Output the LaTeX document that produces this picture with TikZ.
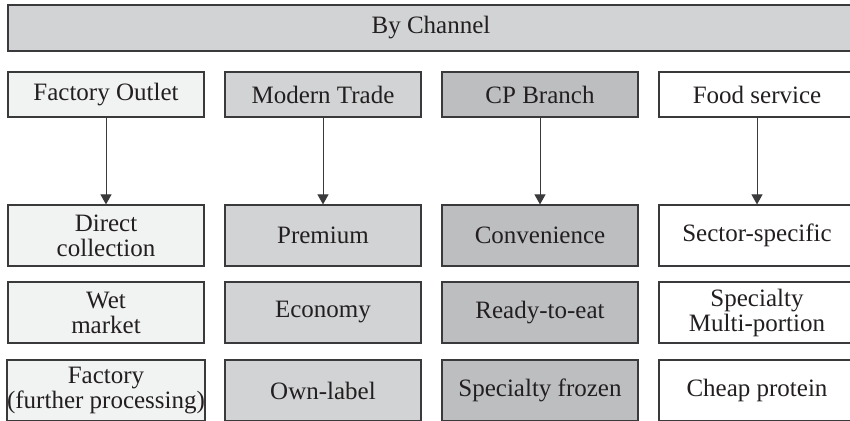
\documentclass[tikz,border=0pt]{standalone}
\usepackage{fontspec}
\setmainfont{Liberation Serif}
\usetikzlibrary{arrows.meta}
\definecolor{bordercol}{HTML}{3A3A3C}
\definecolor{txtcol}{HTML}{231F20}
\definecolor{fillA}{HTML}{F1F2F2}
\definecolor{fillB}{HTML}{D1D3D4}
\definecolor{fillC}{HTML}{BCBEC0}
\definecolor{fillD}{HTML}{FFFFFF}
\tikzset{
  cell/.style={draw=bordercol, line width=1.2pt, text=txtcol, align=center,
    inner sep=0pt, minimum width=196pt,
    font=\fontsize{25}{25}\selectfont},
  headcell/.style={cell, minimum height=45pt},
  bodycell/.style={cell, minimum height=61pt},
  flow/.style={draw=bordercol, line width=1pt, -{Triangle[length=10pt,width=11pt]}}
}
\begin{document}
\begin{tikzpicture}[x=1pt,y=-1pt]
\clip (0,0) rectangle (850,420);
\fill[white] (0,0) rectangle (850,420);
\node[cell, fill=fillB, minimum width=846pt, minimum height=46pt] (top) at (431,28) {By Channel};
% headers
\node[headcell, fill=fillA] (h1) at (106,94.5) {Factory Outlet};
\node[headcell, fill=fillB] (h2) at (323,94.5) {Modern Trade};
\node[headcell, fill=fillC] (h3) at (540,94.5) {CP Branch};
\node[headcell, fill=fillD] (h4) at (757,94.5) {Food service};
% row 1
\node[bodycell, fill=fillA] (a1) at (106,235.5) {Direct\\collection};
\node[bodycell, fill=fillB] (b1) at (323,235.5) {Premium};
\node[bodycell, fill=fillC] (c1) at (540,235.5) {Convenience};
\node[bodycell, fill=fillD] (d1) at (757,235.5) {Sector-specific};
% row 2
\node[bodycell, fill=fillA] (a2) at (106,312.5) {Wet\\market};
\node[bodycell, fill=fillB] (b2) at (323,312.5) {Economy};
\node[bodycell, fill=fillC] (c2) at (540,312.5) {Ready-to-eat};
\node[bodycell, fill=fillD] (d2) at (757,312.5) {Specialty\\Multi-portion};
% row 3
\node[bodycell, fill=fillA] (a3) at (106,390.5) {Factory\\(further processing)};
\node[bodycell, fill=fillB] (b3) at (323,390.5) {Own-label};
\node[bodycell, fill=fillC] (c3) at (540,390.5) {Specialty frozen};
\node[bodycell, fill=fillD] (d3) at (757,390.5) {Cheap protein};
% arrows
\draw[flow] (h1) -- (a1);
\draw[flow] (h2) -- (b1);
\draw[flow] (h3) -- (c1);
\draw[flow] (h4) -- (d1);
\end{tikzpicture}
\end{document}
